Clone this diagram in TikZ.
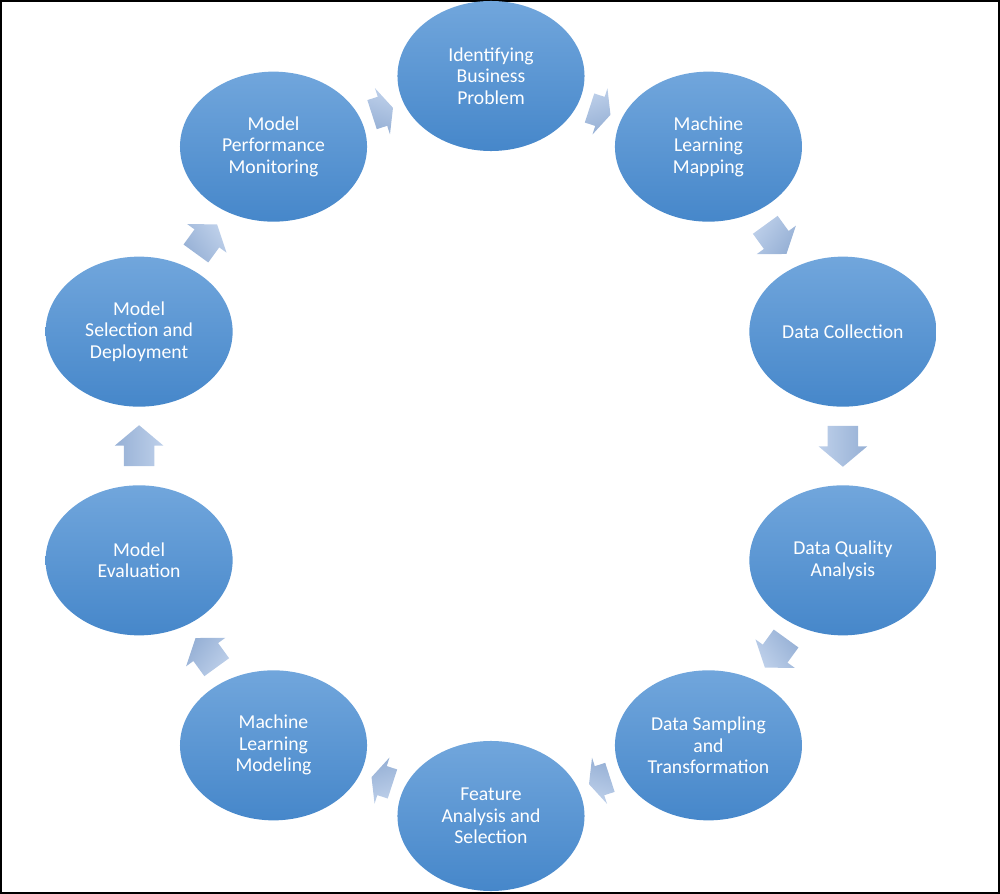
\documentclass[tikz,border=0pt]{standalone}
\usepackage{fontspec}
\setmainfont{Carlito}
\usetikzlibrary{shapes, shapes.arrows, calc}
\definecolor{stagetop}{RGB}{113,166,220}
\definecolor{stagebot}{RGB}{70,135,202}
\definecolor{arrowtop}{RGB}{190,208,234}
\definecolor{arrowbot}{RGB}{150,176,213}
\tikzstyle{stage}=[ellipse, draw=none, top color=stagetop,
    bottom color=stagebot, minimum width=4.675cm, minimum height=3.75cm,
    inner sep=0pt, text=white, align=center,
    font=\fontsize{14}{15.3}\selectfont]
\tikzstyle{flow}=[single arrow, draw=none, top color=arrowtop,
    bottom color=arrowbot, inner sep=0pt, inner ysep=0.375cm,
    minimum width=1.2cm, single arrow head extend=0.225cm, anchor=tail]
\tikzstyle{shortflow}=[flow, minimum height=0.55cm, single arrow tip angle=131]
\tikzstyle{midflow}=[flow, minimum height=0.9cm, single arrow tip angle=109]
\tikzstyle{longflow}=[flow, minimum height=1.025cm, single arrow tip angle=100]
\def\ringr{370}

\begin{document}
\begin{tikzpicture}[x=0.025cm, y=0.025cm]
    \useasboundingbox (-491,-448) rectangle (509,446);
    \draw[line width=0.05cm] (-490,-447) rectangle (508,445);
    % stages
    \path (0,0)+(90:\ringr) node (ibp) [stage] {Identifying\\Business\\Problem};
    \path (0,0)+(54:\ringr) node (mlmap) [stage] {Machine\\Learning\\Mapping};
    \path (0,0)+(18:\ringr) node (dc) [stage] {Data Collection};
    \path (0,0)+(-18:\ringr) node (dqa) [stage] {Data Quality\\Analysis};
    \path (0,0)+(-54:\ringr) node (dst) [stage] {Data Sampling\\and\\Transformation};
    \path (0,0)+(-90:\ringr) node (fas) [stage] {Feature\\Analysis and\\Selection};
    \path (0,0)+(-126:\ringr) node (mlmod) [stage] {Machine\\Learning\\Modeling};
    \path (0,0)+(-162:\ringr) node (me) [stage] {Model\\Evaluation};
    \path (0,0)+(162:\ringr) node (msd) [stage] {Model\\Selection and\\Deployment};
    \path (0,0)+(126:\ringr) node (mpm) [stage] {Model\\Performance\\Monitoring};
    % arrows
    \path ($(ibp)!0.5!(mlmap)$)+(162:11) node [shortflow, rotate=-18, shading angle=18] {};
    \path ($(mlmap)!0.5!(dc)$)+(126:18) node [midflow, rotate=-54, shading angle=54] {};
    \path ($(dc)!0.5!(dqa)$)+(90:20.5) node [longflow, rotate=-90, shading angle=90] {};
    \path ($(dqa)!0.5!(dst)$)+(54:18) node [midflow, rotate=-126, shading angle=126] {};
    \path ($(dst)!0.5!(fas)$)+(18:11) node [shortflow, rotate=-162, shading angle=162] {};
    \path ($(fas)!0.5!(mlmod)$)+(-18:11) node [shortflow, rotate=162, shading angle=-162] {};
    \path ($(mlmod)!0.5!(me)$)+(-54:18) node [midflow, rotate=126, shading angle=-126] {};
    \path ($(me)!0.5!(msd)$)+(-90:20.5) node [longflow, rotate=90, shading angle=-90] {};
    \path ($(msd)!0.5!(mpm)$)+(-126:18) node [midflow, rotate=54, shading angle=-54] {};
    \path ($(mpm)!0.5!(ibp)$)+(-162:11) node [shortflow, rotate=18, shading angle=-18] {};
\end{tikzpicture}
\end{document}
